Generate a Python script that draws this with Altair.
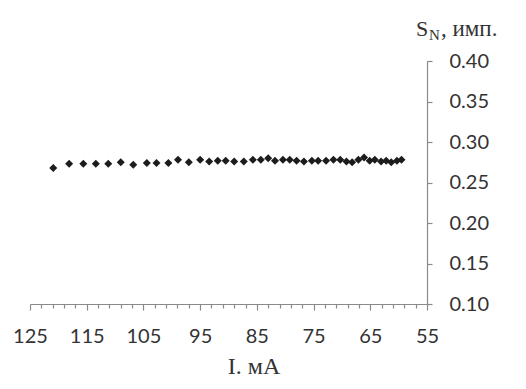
import altair as alt
import pandas as pd

# Current, mA
current = [120.9, 118.1, 115.6, 113.4, 111.2, 109.0, 106.8, 104.4, 102.7, 100.6,
           98.9, 97.0, 95.0, 93.4, 91.9, 90.5, 89.0, 87.3, 85.7, 84.3,
           83.0, 81.8, 80.4, 79.2, 78.0, 76.7, 75.3, 74.2, 72.8, 71.5,
           70.3, 69.2, 68.2, 67.1, 66.1, 65.1, 64.2, 63.1, 62.2, 61.3,
           60.3, 59.5]
# S_N
sn = [0.268, 0.273, 0.273, 0.273, 0.273, 0.275, 0.272, 0.274, 0.274, 0.274,
      0.278, 0.275, 0.278, 0.276, 0.277, 0.277, 0.276, 0.276, 0.278, 0.278,
      0.280, 0.277, 0.278, 0.278, 0.277, 0.276, 0.277, 0.277, 0.277, 0.278,
      0.278, 0.276, 0.275, 0.278, 0.281, 0.277, 0.278, 0.276, 0.277, 0.275,
      0.277, 0.278]

x_ticks = [125, 123, 121, 119, 117, 115, 113, 111, 109, 107, 105, 103, 101, 99, 97, 95,
           93, 91, 89, 87, 85, 83, 81, 79, 77, 75, 73, 71, 69, 67, 65, 63, 61, 59, 57, 55]
y_ticks = [0.10, 0.15, 0.20, 0.25, 0.30, 0.35, 0.40]

df = pd.DataFrame({"I": current, "SN": sn})

W, H = 397, 243
LABEL_FONT = "Lato"
TXT = "#333333"
AX = "#8a8a8a"

xscale = alt.Scale(domain=[125, 55], nice=False, zero=False)
yscale = alt.Scale(domain=[0.10, 0.40], nice=False, zero=False)

points = alt.Chart(df).mark_point(
    shape="diamond", filled=True, size=64, color="#1c1c1c", opacity=1
).encode(
    x=alt.X("I:Q", scale=xscale, axis=alt.Axis(
        values=x_ticks, title=None, grid=False, format="d",
        labelExpr="datum.value % 10 == 5 ? datum.label : ''",
        tickSize={"condition": {"test": "datum.value % 10 == 5", "value": 6}, "value": 4},
        tickColor=AX, domainColor=AX, labelFont=LABEL_FONT, labelFontSize=20,
        labelColor=TXT, labelPadding=16, labelFlush=False, labelOverlap=False,
        domainWidth=1.2, tickWidth=1.2)),
    y=alt.Y("SN:Q", scale=yscale, axis=alt.Axis(
        orient="right", values=y_ticks, format=".2f", title=None, grid=False,
        tickSize=5, tickColor=AX, domainColor=AX, labelFont=LABEL_FONT,
        labelFontSize=20, labelColor=TXT, labelPadding=17, labelFlush=False,
        domainWidth=1.2, tickWidth=1.2)),
)

s_txt = alt.Chart(pd.DataFrame({"t": ["S"]})).mark_text(
    font="Liberation Serif", fontSize=22, align="left", baseline="alphabetic", color=TXT
).encode(text="t:N", x=alt.value(386), y=alt.value(-25))
n_txt = alt.Chart(pd.DataFrame({"t": ["N"]})).mark_text(
    font="Liberation Serif", fontSize=15, align="left", baseline="alphabetic", color=TXT
).encode(text="t:N", x=alt.value(399), y=alt.value(-21))
rest_txt = alt.Chart(pd.DataFrame({"t": [", имп."]})).mark_text(
    font="Liberation Serif", fontSize=23, align="left", baseline="alphabetic", color=TXT
).encode(text="t:N", x=alt.value(411), y=alt.value(-25))
x_title = alt.Chart(pd.DataFrame({"t": ["I. мА"]})).mark_text(
    font="Liberation Serif", fontSize=24, align="center", baseline="alphabetic", color=TXT
).encode(text="t:N", x=alt.value(224), y=alt.value(313))

chart = alt.layer(points, s_txt, n_txt, rest_txt, x_title).properties(
    width=W, height=H,
    autosize=alt.AutoSizeParams(type="none"),
    padding={"left": 22, "top": 53, "right": 90, "bottom": 77},
).configure_view(stroke=None)

chart.save("out.html", embed_options={"renderer": "svg", "actions": False})
